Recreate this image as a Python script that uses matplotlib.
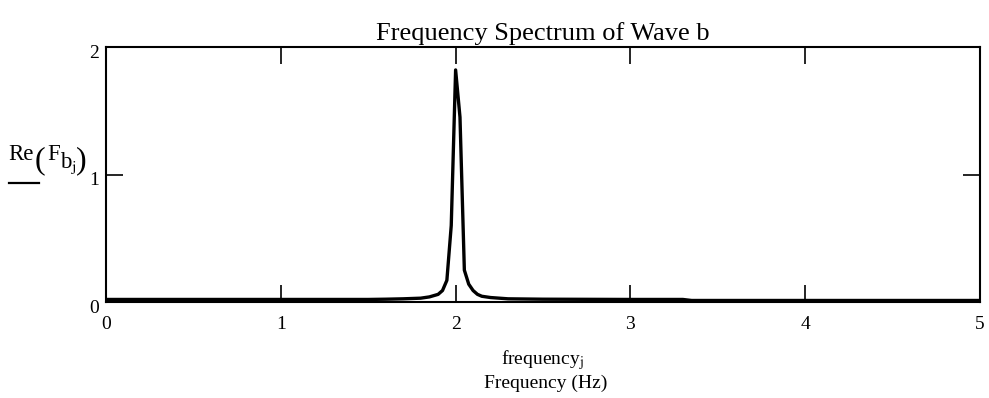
import matplotlib
matplotlib.use("Agg")
import matplotlib.pyplot as plt
from matplotlib.lines import Line2D
from matplotlib.transforms import ScaledTranslation

plt.rcParams["font.family"] = ["Liberation Serif", "DejaVu Serif"]
plt.rcParams["mathtext.fontset"] = "stix"

# frequency (Hz) and Re(F b_j)
frequency = [0.0, 1.0, 1.5, 1.6, 1.7, 1.8, 1.85, 1.9, 1.925, 1.95, 1.975,
             2.0, 2.025, 2.05, 2.075, 2.1, 2.125, 2.15, 2.2, 2.3, 2.5,
             3.0, 3.3, 3.35, 4.0, 5.0]
re_fb = [0.02, 0.02, 0.02, 0.022, 0.025, 0.03, 0.04, 0.06, 0.09, 0.17, 0.6,
         1.82, 1.45, 0.25, 0.14, 0.09, 0.06, 0.045, 0.035, 0.025, 0.022,
         0.02, 0.02, 0.012, 0.012, 0.012]

xticks = [0, 1, 2, 3, 4, 5]
yticks = [0, 1, 2]

fig = plt.figure(figsize=(9.89, 3.98), dpi=100)
ax = fig.add_axes([0.1072, 0.2412, 0.8837, 0.6407])

ax.plot(frequency, re_fb, color="black", lw=2.4, solid_joinstyle="round")

ax.set_xlim(0, 5)
ax.set_ylim(0, 2)
ax.set_xticks(xticks)
ax.set_yticks(yticks)
ax.tick_params(direction="in", length=12, width=1.2, top=True, right=True,
               labelsize=14, colors="black")
ax.tick_params(axis="x", pad=10)
ax.tick_params(axis="y", pad=5)
for s in ax.spines.values():
    s.set_linewidth(1.5)
# y tick labels sit a little below their ticks in the original
shift = ScaledTranslation(0, -4 / 100, fig.dpi_scale_trans)
for lbl in ax.get_yticklabels():
    lbl.set_transform(lbl.get_transform() + shift)

ax.set_title("Frequency Spectrum of Wave b", fontsize=19, pad=5)

fig.text(0.548, 0.085, r"frequency$_\mathrm{j}$", ha="center", fontsize=14)
fig.text(0.552, 0.025, "Frequency (Hz)", ha="center", fontsize=14)

# y label Re(F b_j) in pieces, big parentheses, short rule below
fig.text(0.0081, 0.598, "Re", va="baseline", fontsize=16.5)
fig.text(0.0354, 0.578, "(", va="baseline", fontsize=23)
fig.text(0.0475, 0.598, "F", va="baseline", fontsize=16.5)
fig.text(0.0607, 0.578, r"b$_\mathrm{j}$", va="baseline", fontsize=16.5)
fig.text(0.0768, 0.578, ")", va="baseline", fontsize=23)
fig.add_artist(Line2D([0.0091, 0.0395], [0.541, 0.541], color="black", lw=1.6,
                      transform=fig.transFigure))

fig.savefig("out.png", dpi=100)
